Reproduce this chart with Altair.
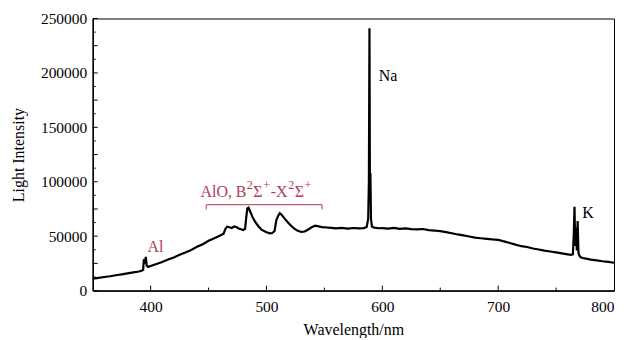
import altair as alt
import pandas as pd

# Spectrum (wavelength nm, intensity)
wavelength = [
    350, 355, 360, 365, 370, 375, 380, 385, 390, 392, 393.5, 394.2, 395, 395.8, 396.6, 398,
    400, 405, 410, 415, 420, 425, 430, 435, 440, 445, 450, 455, 460, 463, 464.5, 466,
    468, 470, 472, 474, 476, 478, 480, 481.5, 482.5, 483.5, 484.5, 486, 488, 490,
    493, 496, 500, 503, 505, 507, 508.5, 510, 511.5, 513, 515, 518, 521, 524,
    527, 530, 533, 536, 539, 542, 545, 548, 552, 556, 560, 565, 570, 575,
    580, 584, 586.5, 587.8, 588.4, 588.9, 589.3, 589.7, 590.2, 591, 593, 597,
    600, 605, 610, 615, 620, 625, 630, 635, 640, 645, 650, 655, 660, 665,
    670, 675, 680, 685, 690, 695, 700, 705, 710, 715, 720, 725, 730, 735,
    740, 745, 750, 755, 760, 763, 764.5, 765.3, 765.9, 766.5, 767.2, 767.9, 768.6, 769.3,
    770, 771, 773, 776, 780, 785, 790, 795, 800,
]
intensity = [
    11000, 11700, 12500, 13200, 14100, 14900, 15900, 16700, 17600, 18200, 19000, 29000, 25000, 31000, 23000, 21800,
    22600, 24400, 26300, 28600, 30400, 32900, 35100, 37400, 40200, 42600, 45800, 48200, 50600, 52300, 56500, 58700,
    58200, 57400, 58900, 58400, 57100, 56300, 55600, 56800, 67000, 75500, 76200, 72500, 67500, 63500,
    59200, 55800, 53600, 52600, 52900, 54800, 64500, 68500, 71200, 69800, 67000, 63200, 59800, 56900,
    54900, 53900, 54300, 56200, 58200, 59600, 59000, 58400, 58000, 57600, 57200, 57600, 57000, 57500,
    57100, 57400, 58500, 66000, 100000, 241000, 92000, 108000, 66000, 58800, 57900, 57300,
    57400, 57000, 57600, 56800, 57100, 56500, 56200, 56600, 55600, 55200, 54600, 53700, 52700, 51600,
    50700, 49700, 48700, 48100, 47600, 47000, 46600, 45200, 43700, 42300, 40800, 40100, 38700, 37800,
    36700, 35900, 35100, 34200, 33300, 32800, 33500, 52000, 77000, 41000, 58000, 37000, 64000, 35000,
    32500, 30800, 30000, 29400, 28500, 27800, 27000, 26400, 25600,
]

x_major = [400, 500, 600, 700]
x_minor = [450, 550, 650, 750]
y_major = [0, 25000, 50000, 75000, 100000, 125000, 150000, 175000, 200000, 225000, 250000]
y_minor = [12500, 37500, 62500, 87500, 112500, 137500, 162500, 187500, 212500, 237500]

labels_black = ["Na", "K"]
labels_black_x = [597, 772.5]
labels_black_y = [193000, 66500]

red = "#b43a56"
SERIF = "Liberation Serif"

# AlO band label pieces (text, size, dx, dy)
alo_text = ["AlO, B", "2", "Σ", "+", "-X", "2", "Σ", "+"]
alo_size = [16, 12, 16, 12, 16, 12, 16, 12]
alo_dx = [0, 46.5, 53, 63, 70.5, 88, 94.5, 104.5]
alo_dy = [0, -8, 0, -8, 0, -8, 0, -8]
alo_anchor = (443, 86000)

bracket_x = [448, 548]
bracket_y = 79000
bracket_tick_y2 = 74500

W, H = 523, 273

spec = pd.DataFrame({"wl": wavelength, "I": intensity})

xs = alt.Scale(domain=[350, 800], nice=False, zero=False)
ys = alt.Scale(domain=[0, 250000], nice=False)

base = alt.Chart(spec)

line = base.mark_line(color="black", strokeWidth=2.2, interpolate="linear").encode(
    x=alt.X("wl:Q", scale=xs,
            axis=alt.Axis(title="Wavelength/nm", values=[400, 500, 600, 700, 800], ticks=False,
                          grid=False, labelPadding=9, titlePadding=7, format="d",
                          labelFont=SERIF, titleFont=SERIF)),
    y=alt.Y("I:Q", scale=ys,
            axis=alt.Axis(title="Light Intensity", values=y_major, ticks=False, grid=False,
                          labelPadding=6, titlePadding=14, format="d",
                          labelFont=SERIF, titleFont=SERIF)),
)

xt_major = alt.Chart(pd.DataFrame({"v": x_major})).mark_rule(color="black", strokeWidth=1).encode(
    x=alt.X("v:Q", scale=xs), y=alt.value(H), y2=alt.value(H - 5))
xt_minor = alt.Chart(pd.DataFrame({"v": x_minor})).mark_rule(color="black", strokeWidth=1).encode(
    x=alt.X("v:Q", scale=xs), y=alt.value(H), y2=alt.value(H - 3))
yt_major = alt.Chart(pd.DataFrame({"v": y_major})).mark_rule(color="black", strokeWidth=1).encode(
    y=alt.Y("v:Q", scale=ys), x=alt.value(0), x2=alt.value(5))
yt_minor = alt.Chart(pd.DataFrame({"v": y_minor})).mark_rule(color="black", strokeWidth=1).encode(
    y=alt.Y("v:Q", scale=ys), x=alt.value(0), x2=alt.value(3))

txt_black = alt.Chart(pd.DataFrame({"t": labels_black, "x": labels_black_x, "y": labels_black_y})).mark_text(
    font=SERIF, fontSize=16, align="left", baseline="alphabetic", color="black"
).encode(x=alt.X("x:Q", scale=xs), y=alt.Y("y:Q", scale=ys), text="t:N")

txt_al = alt.Chart(pd.DataFrame({"t": ["Al"], "x": [397.3], "y": [35700]})).mark_text(
    font=SERIF, fontSize=16, align="left", baseline="alphabetic", color=red
).encode(x=alt.X("x:Q", scale=xs), y=alt.Y("y:Q", scale=ys), text="t:N")

alo_layers = []
for t, s, dx, dy in zip(alo_text, alo_size, alo_dx, alo_dy):
    alo_layers.append(
        alt.Chart(pd.DataFrame({"t": [t], "x": [alo_anchor[0]], "y": [alo_anchor[1]]})).mark_text(
            font=SERIF, fontSize=s, align="left", baseline="alphabetic", color=red,
            dx=dx, dy=dy
        ).encode(x=alt.X("x:Q", scale=xs), y=alt.Y("y:Q", scale=ys), text="t:N")
    )

bracket = alt.Chart(pd.DataFrame({"x": [bracket_x[0]], "x2": [bracket_x[1]], "y": [bracket_y]})).mark_rule(
    color="#c25a72", strokeWidth=1.2).encode(x=alt.X("x:Q", scale=xs), x2="x2:Q", y=alt.Y("y:Q", scale=ys))
bracket_ends = alt.Chart(pd.DataFrame({"x": bracket_x, "y": [bracket_y] * 2, "y2": [bracket_tick_y2] * 2})).mark_rule(
    color="#c25a72", strokeWidth=1.2).encode(x=alt.X("x:Q", scale=xs), y=alt.Y("y:Q", scale=ys), y2="y2:Q")

chart = alt.layer(
    line, xt_major, xt_minor, yt_major, yt_minor, txt_black, txt_al, bracket, bracket_ends, *alo_layers
).properties(
    width=W, height=H,
    padding={"left": 85, "top": 10, "right": 2, "bottom": 47},
    autosize=alt.AutoSizeParams(type="none"),
).configure_view(
    stroke="black", strokeWidth=1
).configure_axis(
    domainColor="black", domainWidth=1.5,
    labelFont=SERIF, labelFontSize=15.5, labelColor="black",
    titleFont=SERIF, titleFontSize=16, titleColor="black", titleFontWeight="normal",
)

chart.save("out.html", embed_options={"renderer": "svg", "actions": False})
